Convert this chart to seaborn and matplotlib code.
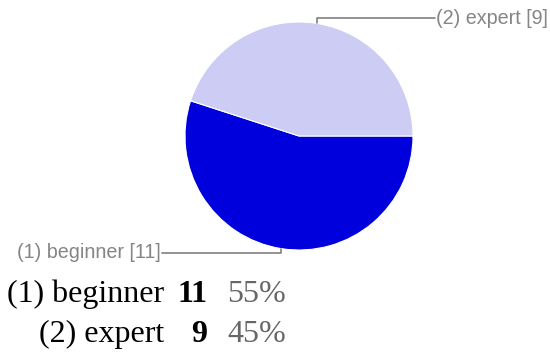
import matplotlib
matplotlib.use("Agg")
import matplotlib.pyplot as plt
import seaborn as sns
import numpy as np

categories = ["(1) beginner", "(2) expert"]
counts = [11, 9]
colors = ["#0000dd", "#ccccf4"]

sns.set_theme(style="white")
plt.rcParams['font.family'] = ['Liberation Sans', 'DejaVu Sans']

W, H = 550, 355
fig = plt.figure(figsize=(W / 100, H / 100), dpi=100)
fig.patch.set_facecolor("white")

# pie axes: center (299,136) px, radius 114 px
cx, cy, r = 299, 136, 114
ax = fig.add_axes([(cx - r) / W, (H - cy - r) / H, 2 * r / W, 2 * r / H])

wedges, _ = ax.pie(counts, colors=colors, startangle=0, counterclock=False,
                   radius=1, wedgeprops=dict(edgecolor="white", linewidth=0.8))
ax.set_xlim(-1, 1)
ax.set_ylim(-1, 1)
ax.set_aspect("equal")
ax.axis("off")

total = sum(counts)
line_color = "#808080"
for w, cat, n in zip(wedges, categories, counts):
    mid = np.deg2rad((w.theta1 + w.theta2) / 2)
    x0, y0 = np.cos(mid), np.sin(mid)
    if y0 > 0:
        yl = 1.035
        xe = 1.19
        ax.plot([x0, x0, xe], [y0, yl, yl], color=line_color, lw=1.2, clip_on=False)
        ax.text(xe + 0.015, yl, f"{cat} [{n}]", ha="left", va="center",
                color="#858585", fontsize=14.2, clip_on=False)
    else:
        yl = -1.026
        xe = -1.20
        ax.plot([x0, x0, xe], [y0, yl, yl], color=line_color, lw=1.2, clip_on=False)
        ax.text(xe - 0.015, yl, f"{cat} [{n}]", ha="right", va="center",
                color="#858585", fontsize=14.2, clip_on=False)

# summary table
rows_y = [302, 342]
for yb, cat, n in zip(rows_y, categories, counts):
    fy = (H - yb) / H
    fig.text(164 / W, fy, cat, ha="right", va="baseline", fontsize=23,
             family="Liberation Serif", color="black")
    fig.text(207 / W, fy, str(n), ha="right", va="baseline", fontsize=23,
             family="Liberation Serif", fontweight="bold", color="black")
    fig.text(227 / W, fy, f"{round(100 * n / total)}%", ha="left", va="baseline",
             fontsize=23, family="Liberation Serif", color="#666666")

fig.savefig("out.png", dpi=100, facecolor="white")
